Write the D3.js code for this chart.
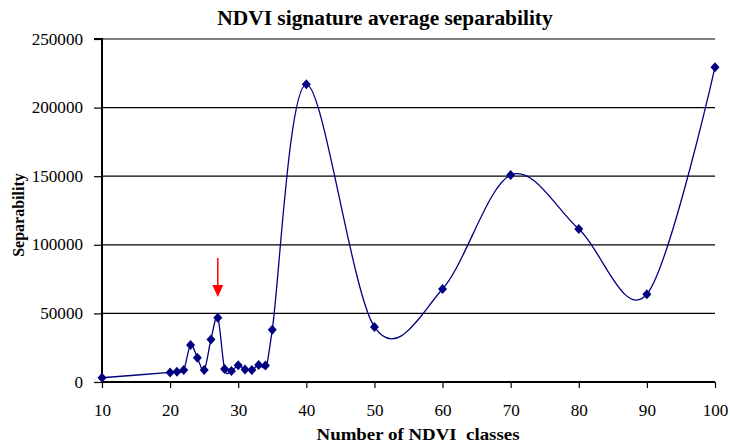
<!DOCTYPE html>
<html><head><meta charset="utf-8">
<script src="https://cdn.jsdelivr.net/npm/d3@7"></script>
<style>body{margin:0;background:#fff}svg{display:block}text{font-family:'Liberation Serif','Times New Roman',serif;fill:#000}</style>
</head><body>
<script>
const classes = [10,20,21,22,23,24,25,26,27,28,29,30,31,32,33,34,35,40,50,60,70,80,90,100];
const separability = [3100,7000,7500,8700,27000,17700,8700,31000,46800,9500,8000,12200,9200,8800,12400,12000,38000,217000,40100,67800,150900,111500,64000,229500];
const xTicks = [10,20,30,40,50,60,70,80,90,100];
const yTicks = [0,50000,100000,150000,200000,250000];
const arrowAt = 27;

const W=730,H=446, m={l:102,r:15,t:39,b:64};
const svg=d3.select("body").append("svg").attr("width",W).attr("height",H);
const x=d3.scaleLinear().domain([10,100]).range([m.l,W-m.r]);
const y=d3.scaleLinear().domain([0,250000]).range([H-m.b,m.t]);
const serif="'Liberation Serif','Times New Roman',serif";
const sx=1.07;

// gridlines
svg.append("g").selectAll("line").data(yTicks.filter(d=>d>0)).join("line")
 .attr("x1",x(10)).attr("x2",x(100)).attr("y1",d=>y(d)).attr("y2",d=>y(d))
 .attr("stroke","#000").attr("stroke-width",1.2);

// y axis
const ya=svg.append("g").attr("transform",`translate(${x(10)},0)`)
 .call(d3.axisLeft(y).tickValues(yTicks).tickSize(8).tickPadding(10).tickFormat(d3.format("d")));
ya.attr("font-family",serif);
ya.select(".domain").attr("stroke","#000").attr("stroke-width",2).attr("d",`M-8,${y(250000)}H0V${y(0)}`);
ya.selectAll(".tick line").attr("stroke-width",1.2);
ya.selectAll("text").attr("font-family",serif).attr("font-size",16).attr("fill","#000")
 .attr("x",-19/sx).attr("transform",`scale(${sx},1)`);

// x axis
const xa=svg.append("g").attr("transform",`translate(0,${y(0)})`)
 .call(d3.axisBottom(x).tickValues(xTicks).tickSize(6).tickPadding(17).tickFormat(d3.format("d")));
xa.attr("font-family",serif);
xa.select(".domain").attr("stroke","#000").attr("stroke-width",2).attr("d",`M${x(10)},0H${x(100)}`);
xa.selectAll(".tick line").attr("stroke-width",1.2);
xa.selectAll("text").attr("font-family",serif).attr("font-size",16).attr("fill","#000")
 .attr("transform",`scale(${sx},1)`);

// line
const pts=classes.map((c,i)=>[c,separability[i]]);
svg.append("path").datum(pts)
 .attr("d",d3.line().x(d=>x(d[0])).y(d=>y(d[1])).curve(d3.curveCardinal.tension(0)))
 .attr("fill","none").attr("stroke","#000080").attr("stroke-width",1.3);

// markers
svg.append("g").selectAll("path").data(pts).join("path")
 .attr("transform",d=>`translate(${x(d[0])},${y(d[1])})`)
 .attr("d","M0,-5L4.5,0L0,5L-4.5,0Z").attr("fill","#000080");

// arrow
const ax=x(arrowAt);
svg.append("line").attr("x1",ax).attr("x2",ax).attr("y1",258).attr("y2",287)
 .attr("stroke","#ff0000").attr("stroke-width",1.5);
svg.append("path").attr("d",`M${ax-5.5},285L${ax+5.5},285L${ax},297Z`).attr("fill","#ff0000");

// titles
svg.append("text").attr("transform","translate(385,25) scale(1.07,1)").attr("text-anchor","middle")
 .attr("font-family",serif).attr("font-weight","bold").attr("font-size",20).text("NDVI signature average separability");
svg.append("text").attr("transform","translate(418,440) scale(1.18,1)").attr("text-anchor","middle")
 .style("white-space","pre")
 .attr("font-family",serif).attr("font-weight","bold").attr("font-size",16).text("Number of NDVI  classes");
svg.append("text").attr("transform","translate(24,215) rotate(-90)").attr("text-anchor","middle")
 .attr("font-family",serif).attr("font-weight","bold").attr("font-size",16).text("Separability");
</script>
</body></html>
